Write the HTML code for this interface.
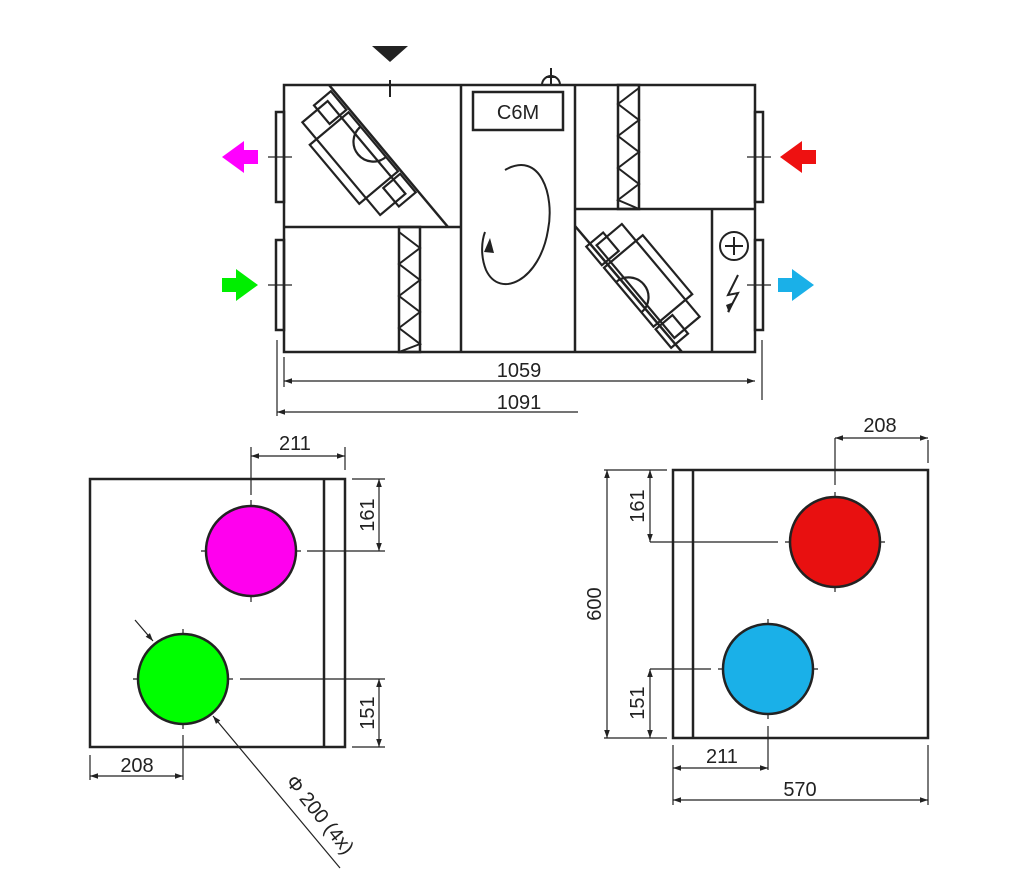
<!DOCTYPE html>
<html><head><meta charset="utf-8"><style>
html,body{margin:0;padding:0;background:#fff;}
svg{display:block}
text{font-family:"Liberation Sans",Arial,sans-serif;font-size:20px;fill:#222}
</style></head><body>
<svg width="1020" height="880" viewBox="0 0 1020 880" xmlns="http://www.w3.org/2000/svg">
<defs>
<marker id="a" viewBox="0 0 10 10" refX="10" refY="5" markerWidth="12" markerHeight="8" orient="auto-start-reverse" markerUnits="userSpaceOnUse"><path d="M0,1.5 L10,5 L0,8.5 z" fill="#222"/></marker>
</defs>
<g stroke="#222" fill="none" stroke-width="2.5">
<rect x="284" y="85" width="471" height="267"/>
<line x1="284" y1="227" x2="461" y2="227"/>
<line x1="575" y1="209" x2="755" y2="209"/>
<line x1="461" y1="85" x2="461" y2="352"/>
<line x1="575" y1="85" x2="575" y2="352"/>
<rect x="473" y="92" width="90" height="38"/>
<rect x="399" y="227" width="21" height="125"/>
<rect x="618" y="85" width="21" height="124"/>
<line x1="712" y1="209" x2="712" y2="352"/>
<line x1="329" y1="85" x2="448" y2="227"/>
<line x1="575" y1="226" x2="682" y2="352"/>
<rect x="276" y="112" width="8" height="90"/>
<rect x="276" y="240" width="8" height="90"/>
<rect x="755" y="112" width="8" height="90"/>
<rect x="755" y="240" width="8" height="90"/>
</g>
<g stroke="#222" fill="none" stroke-width="2">
<polyline points="399,232 420,248 399,264 420,280 399,296 420,312 399,328 420,344 399,352"/>
<polyline points="639,88 618,104 639,120 618,136 639,152 618,168 639,184 618,200 639,209"/>
<g transform="translate(348,163) rotate(50) scale(1.1)">
<rect x="-55" y="-22" width="110" height="30"/>
<rect x="-35" y="-30" width="70" height="46"/>
<rect x="-60" y="-30" width="22" height="20"/>
<rect x="38" y="-30" width="22" height="20"/>
<path d="M-18,-30 A18,18 0 0 0 18,-30"/>
</g>
<g transform="translate(654,276) rotate(50) scale(1.1)">
<rect x="-55" y="-8" width="110" height="30"/>
<rect x="-35" y="-16" width="70" height="46"/>
<rect x="-60" y="10" width="22" height="20"/>
<rect x="38" y="10" width="22" height="20"/>
<path d="M-18,30 A18,18 0 0 1 18,30"/>
</g>
<path d="M505,170 C540,150 555,195 548,230 C540,280 500,300 486,270 C480,255 482,240 485,232"/>
<circle cx="734" cy="246" r="14"/>
<line x1="734" y1="237" x2="734" y2="255"/><line x1="725" y1="246" x2="743" y2="246"/>
<polyline points="738,275 728,295 738,293 728,312"/>
<path d="M542,85 A9,9 0 0 1 560,85"/><line x1="551" y1="68" x2="551" y2="85"/><line x1="546" y1="77" x2="556" y2="77"/>
<line x1="390" y1="80" x2="390" y2="97"/>
</g>
<path d="M484,252 L490,238 L494,253 z" fill="#222"/>
<path d="M372,46 L408,46 L390,62 z" fill="#222"/>
<path d="M729,313 L734,302 L726,305 z" fill="#222"/>
<text x="518" y="119" text-anchor="middle">C6M</text>
<path d="M258,150 L244,150 L244,141 L222,157 L244,173 L244,164 L258,164 z" fill="#f0f"/>
<path d="M222,278 L236,278 L236,269 L258,285 L236,301 L236,292 L222,292 z" fill="#0e0"/>
<path d="M816,150 L802,150 L802,141 L780,157 L802,173 L802,164 L816,164 z" fill="#e11"/>
<path d="M778,278 L792,278 L792,269 L814,285 L792,301 L792,292 L778,292 z" fill="#1ab0e8"/>
<g stroke="#222" stroke-width="1.2">
<line x1="268" y1="157" x2="292" y2="157"/><line x1="268" y1="285" x2="292" y2="285"/>
<line x1="747" y1="157" x2="771" y2="157"/><line x1="747" y1="285" x2="771" y2="285"/>
<line x1="284" y1="357" x2="284" y2="387"/><line x1="762" y1="340" x2="762" y2="400"/>
<line x1="277" y1="340" x2="277" y2="416"/>
<line x1="284" y1="381" x2="755" y2="381" marker-start="url(#a)" marker-end="url(#a)"/>
<line x1="277" y1="412" x2="578" y2="412" marker-start="url(#a)"/>
</g>
<text x="519" y="377" text-anchor="middle">1059</text>
<text x="519" y="409" text-anchor="middle">1091</text>
<g stroke="#222" fill="none" stroke-width="2.5">
<rect x="90" y="479" width="255" height="268"/>
<line x1="324" y1="479" x2="324" y2="747"/>
</g>
<g stroke="#222" stroke-width="1.2" fill="none">
<line x1="251" y1="447" x2="251" y2="495"/><line x1="251" y1="500" x2="251" y2="602"/>
<line x1="201" y1="551" x2="301" y2="551"/><line x1="307" y1="551" x2="385" y2="551"/>
<line x1="345" y1="447" x2="345" y2="470"/>
<line x1="251" y1="456" x2="345" y2="456" marker-start="url(#a)" marker-end="url(#a)"/>
<line x1="352" y1="479" x2="385" y2="479"/>
<line x1="379" y1="479" x2="379" y2="551" marker-start="url(#a)" marker-end="url(#a)"/>
<line x1="133" y1="679" x2="233" y2="679"/><line x1="240" y1="679" x2="385" y2="679"/>
<line x1="183" y1="629" x2="183" y2="729"/><line x1="183" y1="735" x2="183" y2="780"/>
<line x1="352" y1="747" x2="385" y2="747"/>
<line x1="379" y1="679" x2="379" y2="747" marker-start="url(#a)" marker-end="url(#a)"/>
<line x1="90" y1="755" x2="90" y2="780"/>
<line x1="90" y1="776" x2="183" y2="776" marker-start="url(#a)" marker-end="url(#a)"/>
<line x1="340" y1="868" x2="213" y2="716" marker-end="url(#a)"/>
<line x1="135" y1="620" x2="153" y2="641" marker-end="url(#a)"/>
</g>
<circle cx="251" cy="551" r="45" fill="#f0e" stroke="#222" stroke-width="2.5"/>
<circle cx="183" cy="679" r="45" fill="#0f0" stroke="#222" stroke-width="2.5"/>
<text x="295" y="450" text-anchor="middle">211</text>
<text transform="translate(374,515) rotate(-90)" text-anchor="middle">161</text>
<text transform="translate(374,713) rotate(-90)" text-anchor="middle">151</text>
<text x="137" y="772" text-anchor="middle">208</text>
<text transform="translate(285,782) rotate(51)">Φ 200 (4x)</text>
<g stroke="#222" fill="none" stroke-width="2.5">
<rect x="673" y="470" width="255" height="268"/>
<line x1="693" y1="470" x2="693" y2="738"/>
</g>
<g stroke="#222" stroke-width="1.2" fill="none">
<line x1="835" y1="438" x2="835" y2="485"/><line x1="835" y1="492" x2="835" y2="592"/>
<line x1="928" y1="440" x2="928" y2="463"/>
<line x1="835" y1="438" x2="928" y2="438" marker-start="url(#a)" marker-end="url(#a)"/>
<line x1="650" y1="542" x2="778" y2="542"/><line x1="785" y1="542" x2="885" y2="542"/>
<line x1="604" y1="470" x2="667" y2="470"/>
<line x1="604" y1="738" x2="667" y2="738"/>
<line x1="650" y1="470" x2="650" y2="542" marker-start="url(#a)" marker-end="url(#a)"/>
<line x1="607" y1="470" x2="607" y2="738" marker-start="url(#a)" marker-end="url(#a)"/>
<line x1="650" y1="669" x2="711" y2="669"/><line x1="718" y1="669" x2="818" y2="669"/>
<line x1="650" y1="669" x2="650" y2="738" marker-start="url(#a)" marker-end="url(#a)"/>
<line x1="768" y1="619" x2="768" y2="719"/><line x1="768" y1="726" x2="768" y2="770"/>
<line x1="673" y1="745" x2="673" y2="805"/><line x1="928" y1="745" x2="928" y2="805"/>
<line x1="673" y1="768" x2="768" y2="768" marker-start="url(#a)" marker-end="url(#a)"/>
<line x1="673" y1="800" x2="928" y2="800" marker-start="url(#a)" marker-end="url(#a)"/>
</g>
<circle cx="835" cy="542" r="45" fill="#e81010" stroke="#222" stroke-width="2.5"/>
<circle cx="768" cy="669" r="45" fill="#1ab0e8" stroke="#222" stroke-width="2.5"/>
<text x="880" y="432" text-anchor="middle">208</text>
<text transform="translate(644,506) rotate(-90)" text-anchor="middle">161</text>
<text transform="translate(601,604) rotate(-90)" text-anchor="middle">600</text>
<text transform="translate(644,703) rotate(-90)" text-anchor="middle">151</text>
<text x="722" y="763" text-anchor="middle">211</text>
<text x="800" y="796" text-anchor="middle">570</text>
</svg>
</body></html>
